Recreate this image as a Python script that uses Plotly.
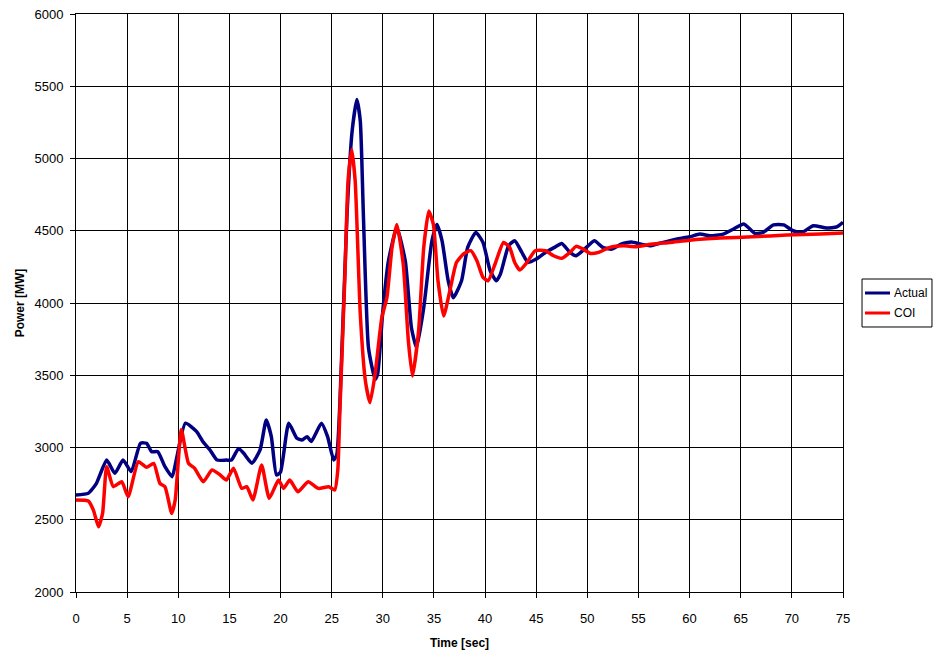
import plotly.graph_objects as go

series_names = ["Actual", "COI"]
series_colors = ["#000080", "#FF0000"]

# Actual power (blue)
actual_t = [0, 1.2, 2.0, 3.0, 3.8, 4.6, 5.4, 6.3, 6.9, 7.4, 8.0, 8.7, 9.4, 9.8, 10.7, 11.8, 12.4, 13.1,
            13.8, 14.7, 15.2, 15.9, 16.4, 17.2, 18.0, 18.6, 19.1, 19.6, 20.0, 20.8, 21.6, 22.1, 22.6, 23.0,
            24.0, 24.6, 25.2, 25.5, 25.8, 26.5, 27.0, 27.46, 27.8, 28.1, 28.6, 29.25, 29.5, 30.0, 30.55,
            31.37, 32.2, 32.8, 33.3, 34.0, 34.8, 35.3, 35.8, 36.4, 36.9, 37.7, 38.3, 39.1, 39.8, 40.5, 41.1,
            41.5, 42.3, 42.9, 43.6, 44.2, 45.0, 45.9, 46.8, 47.5, 48.3, 48.9, 49.9, 50.7, 51.5, 52.4, 53.3,
            54.3, 55.2, 56.1, 57.4, 58.7, 60.0, 61.0, 62.0, 63.3, 64.3, 65.3, 66.4, 67.2, 68.2, 69.2, 70.1,
            71.0, 72.1, 73.4, 74.4, 75.0]
actual_p = [2671, 2683, 2752, 2913, 2821, 2913, 2833, 3029, 3029, 2971, 2971, 2867, 2798, 2913, 3168, 3110, 3041, 2983,
            2913, 2913, 2913, 2994, 2960, 2891, 2983, 3190, 3075, 2810, 2830, 3168, 3064, 3052, 3075, 3041,
            3168, 3075, 2913, 2950, 3300, 4613, 5189, 5408, 5258, 4613, 3690, 3472, 3510, 3944, 4290,
            4520, 4290, 3829, 3690, 3967, 4428, 4543, 4428, 4152, 4036, 4154, 4385, 4488, 4419, 4223, 4154,
            4200, 4396, 4431, 4350, 4281, 4304, 4350, 4385, 4412, 4350, 4327, 4385, 4431, 4385, 4373, 4408,
            4422, 4408, 4396, 4419, 4442, 4458, 4477, 4465, 4477, 4512, 4546, 4481, 4489, 4541, 4541, 4500,
            4489, 4535, 4519, 4527, 4558]

# COI power (red)
coi_t = [0, 1.2, 1.7, 2.2, 2.6, 3.0, 3.65, 4.47, 5.1, 6.1, 6.9, 7.6, 8.2, 8.7, 9.36, 9.7, 10.3, 11.0, 11.6,
         12.45, 13.3, 14.1, 14.7, 15.4, 16.2, 16.7, 17.3, 18.15, 18.9, 19.8, 20.3, 20.9, 21.7, 22.7, 23.7,
         24.7, 25.3, 25.6, 25.8, 26.3, 26.6, 26.96, 27.3, 27.8, 28.3, 28.75, 29.25, 29.9, 30.4, 30.9, 31.37,
         32.0, 32.5, 32.9, 33.5, 34.0, 34.5, 34.95, 35.4, 35.95, 36.6, 37.2, 37.9, 38.6, 39.2, 39.8, 40.3,
         40.98, 41.8, 42.4, 42.9, 43.4, 44.1, 44.9, 45.9, 46.7, 47.5, 48.3, 48.9, 49.6, 50.3, 51.1, 52.2,
         53.5, 54.8, 56.4, 58.1, 60.0, 63.0, 66.2, 69.5, 72.8, 75.0]
coi_p = [2637, 2630, 2567, 2452, 2544, 2867, 2729, 2763, 2660, 2902, 2863, 2890, 2752, 2729, 2544, 2637, 3122, 2891, 2856,
         2763, 2844, 2810, 2775, 2856, 2717, 2729, 2637, 2879, 2648, 2775, 2717, 2775, 2694, 2763, 2717,
         2729, 2706, 2844, 3252, 4198, 4843, 5062, 4843, 3921, 3460, 3310, 3510, 3898, 4036, 4382, 4543,
         4267, 3737, 3494, 3806, 4382, 4636, 4543, 4152, 3910, 4100, 4280, 4340, 4362, 4293, 4177, 4154,
         4270, 4419, 4385, 4281, 4228, 4281, 4362, 4362, 4327, 4309, 4350, 4392, 4373, 4343, 4350, 4385,
         4396, 4390, 4408, 4419, 4435, 4450, 4458, 4470, 4477, 4485]

x_ticks = list(range(0, 80, 5))
y_ticks = list(range(2000, 6500, 500))

FONT = "Liberation Sans, Arial, sans-serif"

fig = go.Figure()
for name, color, tx, py in zip(series_names, series_colors, [actual_t, coi_t], [actual_p, coi_p]):
    fig.add_trace(go.Scatter(x=tx, y=py, mode="lines", name=name, showlegend=False,
                             line=dict(color=color, width=3.5, shape="spline", smoothing=0.5)))

# Legend drawn as a framed box to the right of the plot (paper coordinates)
shapes = [dict(type="rect", xref="paper", yref="paper", x0=1.0248, x1=1.1160, y0=0.4585, y1=0.5415,
               line=dict(color="black", width=1), fillcolor="white", layer="above")]
annotations = []
for i, (name, color) in enumerate(zip(series_names, series_colors)):
    yy = 0.5173 - i * 0.0346
    shapes.append(dict(type="line", xref="paper", yref="paper", x0=1.0287, x1=1.0613, y0=yy, y1=yy,
                       line=dict(color=color, width=3), layer="above"))
    annotations.append(dict(text=name, xref="paper", yref="paper", x=1.0639, y=yy,
                            xanchor="left", yanchor="middle", showarrow=False,
                            font=dict(family=FONT, size=12, color="black")))

fig.update_layout(
    width=933, height=651,
    margin=dict(l=76, r=90, t=14, b=59, autoexpand=False),
    paper_bgcolor="white", plot_bgcolor="white",
    font=dict(family=FONT, size=13, color="black"),
    showlegend=False,
    shapes=shapes, annotations=annotations,
    xaxis=dict(range=[0, 75], tickmode="array", tickvals=x_ticks,
               ticktext=[str(v) for v in x_ticks],
               showgrid=True, gridcolor="black", gridwidth=1,
               showline=True, linecolor="black", linewidth=1, mirror=True,
               ticks="outside", ticklen=5, tickcolor="black",
               ticklabelstandoff=9, tickfont=dict(family=FONT, size=13),
               zeroline=False, automargin=False,
               title=dict(text="<b>Time [sec]</b>", font=dict(family=FONT, size=12), standoff=14)),
    yaxis=dict(range=[2000, 6000], tickmode="array", tickvals=y_ticks,
               ticktext=[str(v) for v in y_ticks],
               showgrid=True, gridcolor="black", gridwidth=1,
               showline=True, linecolor="black", linewidth=1, mirror=True,
               ticks="outside", ticklen=5, tickcolor="black",
               ticklabelstandoff=4, tickfont=dict(family=FONT, size=13),
               zeroline=False, automargin=False,
               title=dict(text="<b>Power [MW]</b>", font=dict(family=FONT, size=12), standoff=7)),
)

fig.write_html("out.html", config={"displayModeBar": False},
               post_script="document.body.style.margin='0';")
